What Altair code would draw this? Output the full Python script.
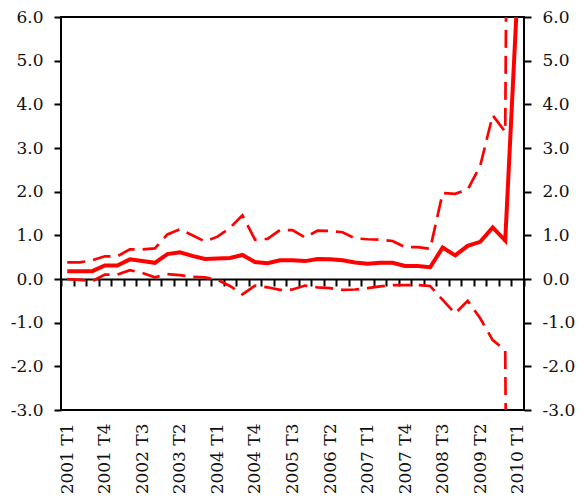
import altair as alt
import pandas as pd

quarters = [
    "2001 T1", "2001 T2", "2001 T3", "2001 T4",
    "2002 T1", "2002 T2", "2002 T3", "2002 T4",
    "2003 T1", "2003 T2", "2003 T3", "2003 T4",
    "2004 T1", "2004 T2", "2004 T3", "2004 T4",
    "2005 T1", "2005 T2", "2005 T3", "2005 T4",
    "2006 T1", "2006 T2", "2006 T3", "2006 T4",
    "2007 T1", "2007 T2", "2007 T3", "2007 T4",
    "2008 T1", "2008 T2", "2008 T3", "2008 T4",
    "2009 T1", "2009 T2", "2009 T3", "2009 T4",
    "2010 T1",
]

shown_labels = [
    "2001 T1", "2001 T4", "2002 T3", "2003 T2", "2004 T1", "2004 T4",
    "2005 T3", "2006 T2", "2007 T1", "2007 T4", "2008 T3", "2009 T2", "2010 T1",
]

central = [
    0.18, 0.18, 0.18, 0.31, 0.31, 0.45, 0.41, 0.37, 0.57, 0.61,
    0.53, 0.46, 0.47, 0.48, 0.55, 0.39, 0.36, 0.43, 0.43, 0.41,
    0.46, 0.45, 0.43, 0.38, 0.35, 0.37, 0.37, 0.30, 0.30, 0.27,
    0.72, 0.54, 0.76, 0.85, 1.18, 0.88, 6.7,
]

upper = [
    0.38, 0.38, 0.43, 0.52, 0.52, 0.68, 0.68, 0.70, 1.02, 1.14,
    1.00, 0.86, 0.97, 1.17, 1.46, 0.90, 0.92, 1.12, 1.12, 0.95,
    1.11, 1.10, 1.07, 0.93, 0.91, 0.90, 0.87, 0.73, 0.73, 0.69,
    1.97, 1.95, 2.05, 2.59, 3.75, 3.37, 45.0,
]

lower = [
    0.00, -0.02, -0.05, 0.10, 0.10, 0.20, 0.14, 0.04, 0.11, 0.09,
    0.05, 0.04, -0.02, -0.16, -0.35, -0.15, -0.19, -0.25, -0.24, -0.15,
    -0.19, -0.21, -0.25, -0.24, -0.21, -0.17, -0.14, -0.14, -0.14, -0.16,
    -0.48, -0.79, -0.50, -0.90, -1.40, -1.63, -40.0,
]

y_ticks = [-3, -2, -1, 0, 1, 2, 3, 4, 5, 6]

df = pd.DataFrame({"q": quarters, "central": central, "upper": upper, "lower": lower})

W = 463
H = 393
zero_offset = -(3 / 9) * H

FONT = "DejaVu Serif"
RED = "#ff0000"

label_list = "[" + ",".join("'" + s + "'" for s in shown_labels) + "]"

x_axis = alt.Axis(
    orient="bottom",
    offset=zero_offset,
    domainColor="black",
    domainWidth=2,
    tickColor="black",
    tickWidth=2,
    tickSize=7,
    tickBand="extent",
    labelAngle=-90,
    labelPadding=137,
    labelFont=FONT,
    labelFontSize=17,
    labelColor="#111111",
    labelExpr="indexof(" + label_list + ", datum.value) >= 0 ? datum.value : ''",
    grid=False,
)

x_enc = alt.X(
    "q:N",
    sort=quarters,
    scale=alt.Scale(type="band", paddingInner=0, paddingOuter=0),
    axis=x_axis,
    bandPosition=0.5,
    title=None,
)

y_scale = alt.Scale(domain=[-3, 6], nice=False, zero=False)

label_expr_y = "(datum.value < 0 ? '-' : '') + format(abs(datum.value), '.1f')"


def y_axis(orient):
    return alt.Axis(
        orient=orient,
        values=y_ticks,
        labelExpr=label_expr_y,
        domain=False,
        grid=False,
        tickColor="black",
        tickWidth=2,
        tickSize=7,
        labelPadding=11,
        labelFont=FONT,
        labelFontSize=17,
        labelColor="#111111",
    )


solid = alt.Chart(df).mark_line(color=RED, strokeWidth=4, clip=True).encode(
    x=x_enc,
    y=alt.Y("central:Q", scale=y_scale, axis=y_axis("left"), title=None),
)

dashed = (
    alt.Chart(df)
    .transform_fold(["upper", "lower"], as_=["bound", "val"])
    .mark_line(color=RED, strokeWidth=2.7, strokeDash=[18, 8], clip=True)
    .encode(
        x=x_enc,
        y=alt.Y("val:Q", scale=y_scale, axis=y_axis("right"), title=None),
        detail="bound:N",
    )
)

chart = (
    alt.layer(dashed, solid)
    .resolve_axis(y="independent")
    .properties(
        width=W,
        height=H,
        autosize=alt.AutoSizeParams(type="none"),
        padding={"left": 53, "top": 9, "right": 52, "bottom": 86},
    )
    .configure_view(stroke="black", strokeWidth=2)
)

chart.save("out.html", embed_options={"renderer": "svg", "actions": False})
